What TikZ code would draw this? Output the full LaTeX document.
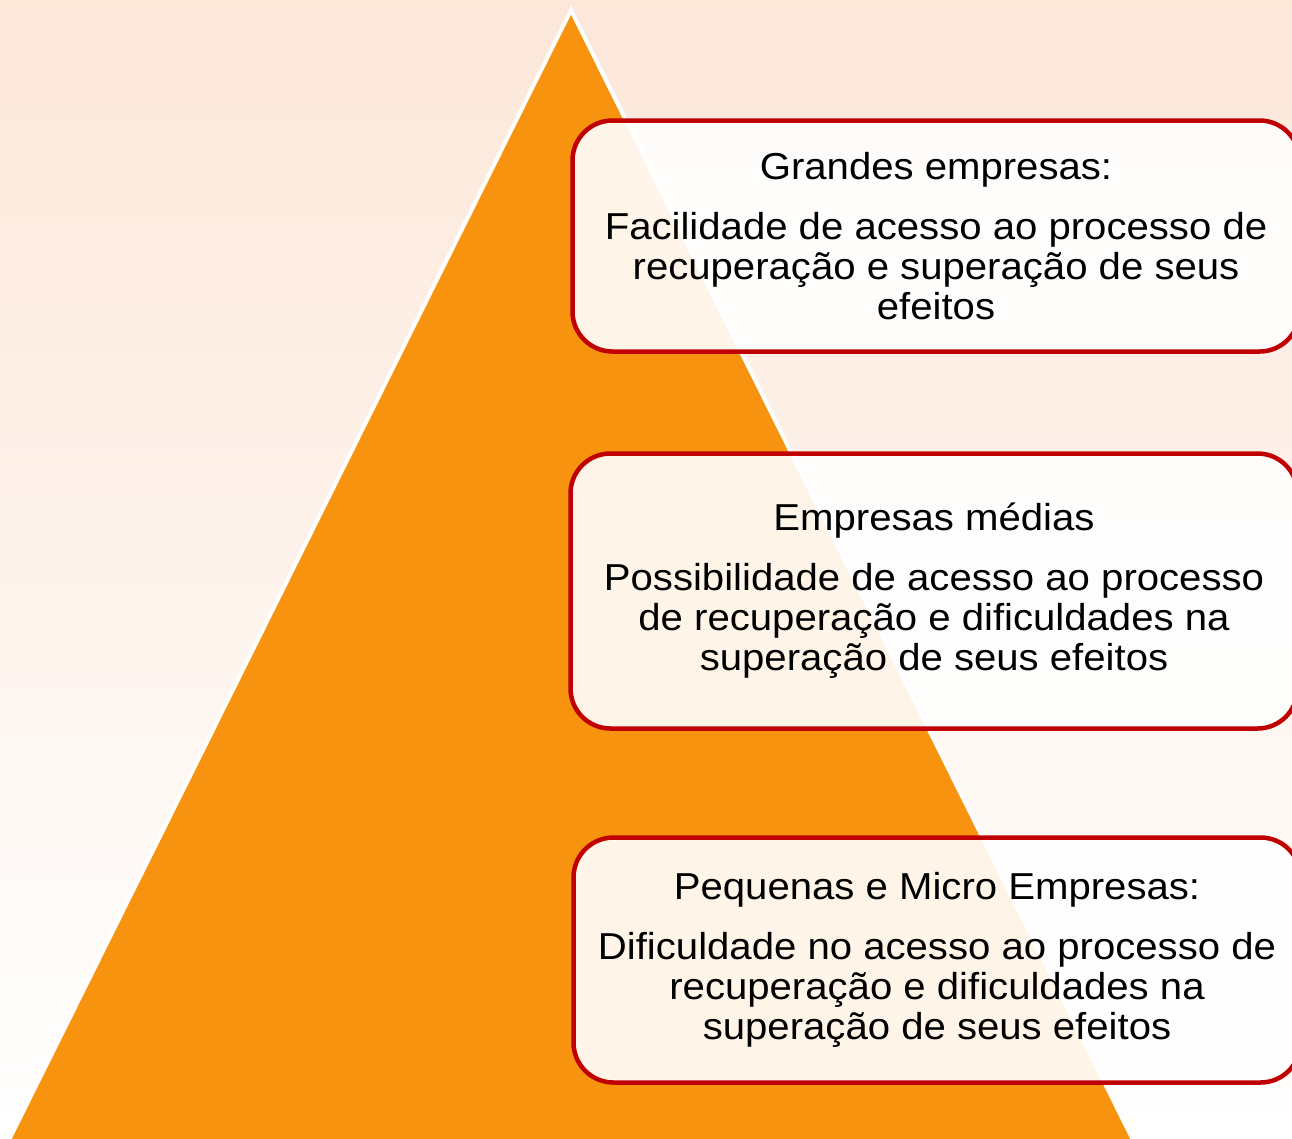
\documentclass[tikz,border=0pt]{standalone}
\usepackage{fontspec}
\setmainfont{Liberation Sans}[FakeStretch=1.07]
\definecolor{laranja}{HTML}{F7930E}
\definecolor{fundo}{HTML}{FCE7D9}
\definecolor{vermelho}{HTML}{C00000}
\tikzset{
	caixa/.style={draw=vermelho, line width=4.5pt, rounded corners=40pt,
		fill=white, fill opacity=0.9, text opacity=1, align=center,
		inner sep=0pt, minimum width=727pt, font=\fontsize{37.5}{40}\selectfont},
}

\begin{document}
\begin{tikzpicture}[x=1pt, y=-1pt]
		\useasboundingbox (0, 0) rectangle (1292, 1138);
		\coordinate (topo) at (571, 10);
		\coordinate (esq) at (6, 1146);
		\coordinate (dir) at (1136, 1146);

		% fundo
		\shade[top color=fundo, middle color=fundo!45, bottom color=white] (0, 0) rectangle (1292, 1138);

		% piramide
		\filldraw[fill=laranja, draw=white, line width=4pt] (esq) -- (topo) -- (dir) -- cycle;

		% caixas
		\node[caixa, minimum height=231pt] (grandes) at (936, 236)
			{Grandes empresas:\\[20pt]Facilidade de acesso ao processo de\\recuperação e superação de seus\\efeitos};
		\node[caixa, minimum height=275pt] (medias) at (934, 591)
			{Empresas médias\\[20pt]Possibilidade de acesso ao processo\\de recuperação e dificuldades na\\superação de seus efeitos};
		\node[caixa, minimum height=245pt] (pequenas) at (937, 960)
			{Pequenas e Micro Empresas:\\[20pt]Dificuldade no acesso ao processo de\\recuperação e dificuldades na\\superação de seus efeitos};
	\end{tikzpicture}
\end{document}
